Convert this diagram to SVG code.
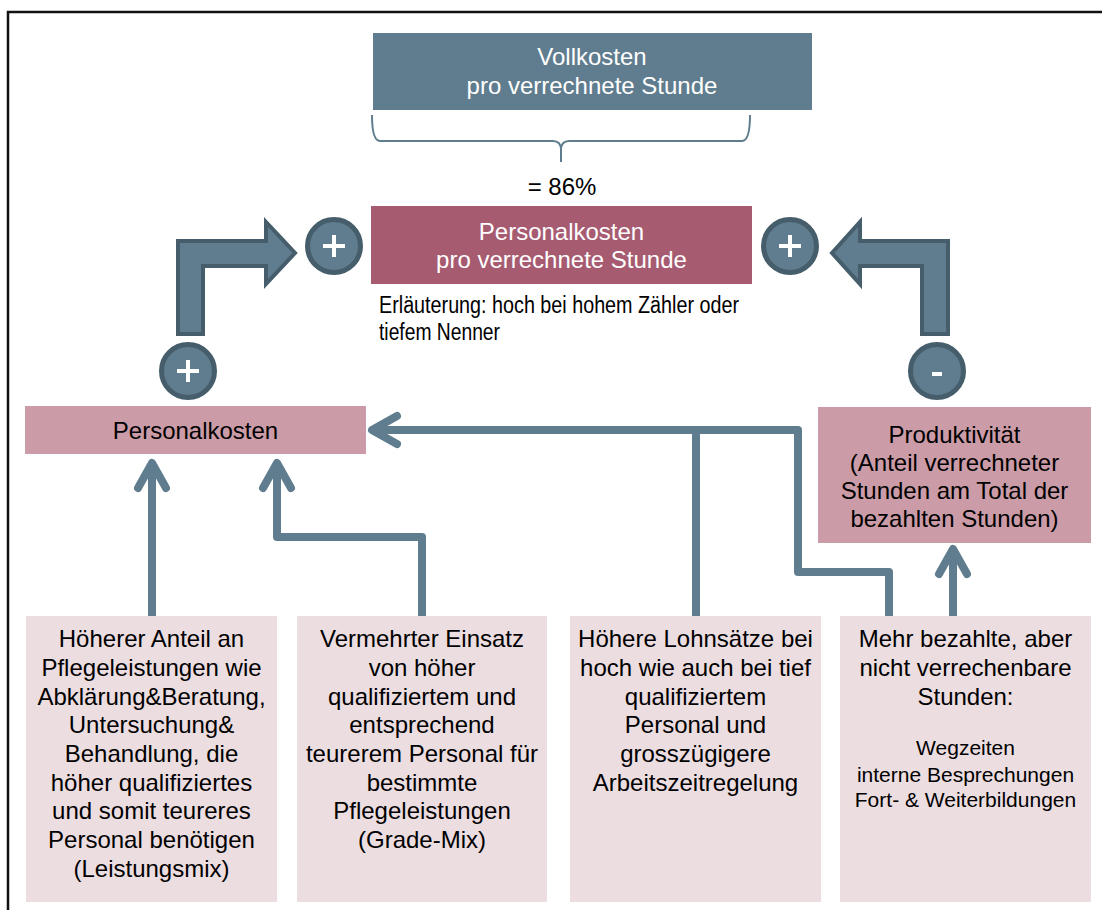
<svg xmlns="http://www.w3.org/2000/svg" width="1102" height="910" viewBox="0 0 1102 910">
<defs>
<style>
text{font-family:"Liberation Sans",Arial,sans-serif;font-size:24px;fill:#000;text-anchor:middle}
.w{fill:#fff}
.sm{font-size:21px}
.conn{fill:none;stroke:#5f7d8e;stroke-width:8;stroke-linejoin:round}
.big{fill:#5f7d8e;stroke:#465e6b;stroke-width:4;stroke-linejoin:miter}
.circ{fill:#5f7d8e;stroke:#465e6b;stroke-width:5}
.sign{stroke:#fff;stroke-width:4;fill:none}
</style>
<marker id="ah" markerUnits="userSpaceOnUse" markerWidth="60" markerHeight="60" viewBox="-40 -30 60 60" refX="0" refY="0" orient="auto" overflow="visible">
<path d="M-25,-14 L0,0 L-25,14" fill="none" stroke="#5f7d8e" stroke-width="8" stroke-linecap="round" stroke-linejoin="round"/>
</marker>
</defs>
<rect width="1102" height="910" fill="#fff"/>
<rect x="8" y="12" width="1110" height="920" fill="none" stroke="#111" stroke-width="2.5"/>

<g id="vollkosten">
<rect x="373" y="33" width="439" height="77" fill="#5f7d8e"/>
<text class="w" x="592" y="65">Vollkosten</text>
<text class="w" x="592" y="94">pro verrechnete Stunde</text>
</g>

<g id="brace">
<path d="M372,115 Q372,141 380,141 L553,141 Q561,141 561,150 L561,162 M561,150 Q561,141 569,141 L742,141 Q750,141 750,115" fill="none" stroke="#5f7d8e" stroke-width="2"/>
<text x="562" y="195">= 86%</text>
</g>

<g id="personalkosten-stunde">
<rect x="371" y="206" width="381" height="78" fill="#a65b71"/>
<text class="w" x="561.5" y="240">Personalkosten</text>
<text class="w" x="561.5" y="268">pro verrechnete Stunde</text>
</g>

<g id="erlaeuterung">
<text x="379" y="313" style="text-anchor:start;font-size:23px" textLength="360" lengthAdjust="spacingAndGlyphs">Erläuterung: hoch bei hohem Zähler oder</text>
<text x="379" y="340" style="text-anchor:start;font-size:23px" textLength="121" lengthAdjust="spacingAndGlyphs">tiefem Nenner</text>
</g>

<g id="arrow-left">
<path class="big" d="M178,334 L178,241 L266,241 L266,222 L295,253 L266,284 L266,266 L203,266 L203,334 Z"/>
</g>
<g id="arrow-right">
<path class="big" d="M948,334 L948,241 L860,241 L860,222 L832,253 L860,284 L860,266 L922,266 L922,334 Z"/>
</g>

<g id="sign-plus-top-left">
<circle class="circ" cx="334" cy="246" r="26.5"/>
<path class="sign" d="M323,246 H345 M334,235 V257"/>
</g>
<g id="sign-plus-top-right">
<circle class="circ" cx="790" cy="246" r="26.5"/>
<path class="sign" d="M779,246 H801 M790,235 V257"/>
</g>
<g id="sign-plus-left">
<circle class="circ" cx="188" cy="371" r="26.5"/>
<path class="sign" d="M177,371 H199 M188,360 V382"/>
</g>
<g id="sign-minus-right">
<circle class="circ" cx="937" cy="371" r="26.5"/>
<path class="sign" d="M932,374 H942"/>
</g>

<g id="personalkosten">
<rect x="25" y="406" width="341" height="48" fill="#cb9ca7"/>
<text x="195.5" y="439">Personalkosten</text>
</g>

<g id="produktivitaet">
<rect x="818" y="407" width="273" height="136" fill="#cb9ca7"/>
<text x="954.5" y="443">Produktivität</text>
<text x="954.5" y="471">(Anteil verrechneter</text>
<text x="954.5" y="499">Stunden am Total der</text>
<text x="954.5" y="527">bezahlten Stunden)</text>
</g>

<g id="connectors">
<path class="conn" d="M152,616 L152,463" marker-end="url(#ah)"/>
<path class="conn" d="M422,616 L422,537 L277,537 L277,463" marker-end="url(#ah)"/>
<path class="conn" d="M696,616 L696,430"/>
<path class="conn" d="M889,616 L889,572 L798,572 L798,430 L372,430" marker-end="url(#ah)"/>
<path class="conn" d="M953,616 L953,549" marker-end="url(#ah)"/>
</g>

<g id="box-leistungsmix">
<rect x="26" y="616" width="251" height="286" fill="#ecdde0"/>
<text x="151.5" y="647">Höherer Anteil an</text>
<text x="151.5" y="676">Pflegeleistungen wie</text>
<text x="151.5" y="704.5">Abklärung&amp;Beratung,</text>
<text x="151.5" y="733">Untersuchung&amp;</text>
<text x="151.5" y="762">Behandlung, die</text>
<text x="151.5" y="790.5">höher qualifiziertes</text>
<text x="151.5" y="819">und somit teureres</text>
<text x="151.5" y="848">Personal benötigen</text>
<text x="151.5" y="876.5">(Leistungsmix)</text>
</g>

<g id="box-grade-mix">
<rect x="297" y="616" width="250" height="286" fill="#ecdde0"/>
<text x="422" y="647">Vermehrter Einsatz</text>
<text x="422" y="676">von höher</text>
<text x="422" y="704.5">qualifiziertem und</text>
<text x="422" y="733">entsprechend</text>
<text x="422" y="762">teurerem Personal für</text>
<text x="422" y="790.5">bestimmte</text>
<text x="422" y="819">Pflegeleistungen</text>
<text x="422" y="848">(Grade-Mix)</text>
</g>

<g id="box-lohnsaetze">
<rect x="570" y="616" width="251" height="286" fill="#ecdde0"/>
<text x="695.5" y="647">Höhere Lohnsätze bei</text>
<text x="695.5" y="676">hoch wie auch bei tief</text>
<text x="695.5" y="704.5">qualifiziertem</text>
<text x="695.5" y="733">Personal und</text>
<text x="695.5" y="762">grosszügigere</text>
<text x="695.5" y="790.5">Arbeitszeitregelung</text>
</g>

<g id="box-stunden">
<rect x="840" y="616" width="251" height="286" fill="#ecdde0"/>
<text x="965.5" y="647">Mehr bezahlte, aber</text>
<text x="965.5" y="676">nicht verrechenbare</text>
<text x="965.5" y="704.5">Stunden:</text>
<text class="sm" x="965.5" y="755">Wegzeiten</text>
<text class="sm" x="965.5" y="782">interne Besprechungen</text>
<text class="sm" x="965.5" y="807">Fort- &amp; Weiterbildungen</text>
</g>
</svg>
